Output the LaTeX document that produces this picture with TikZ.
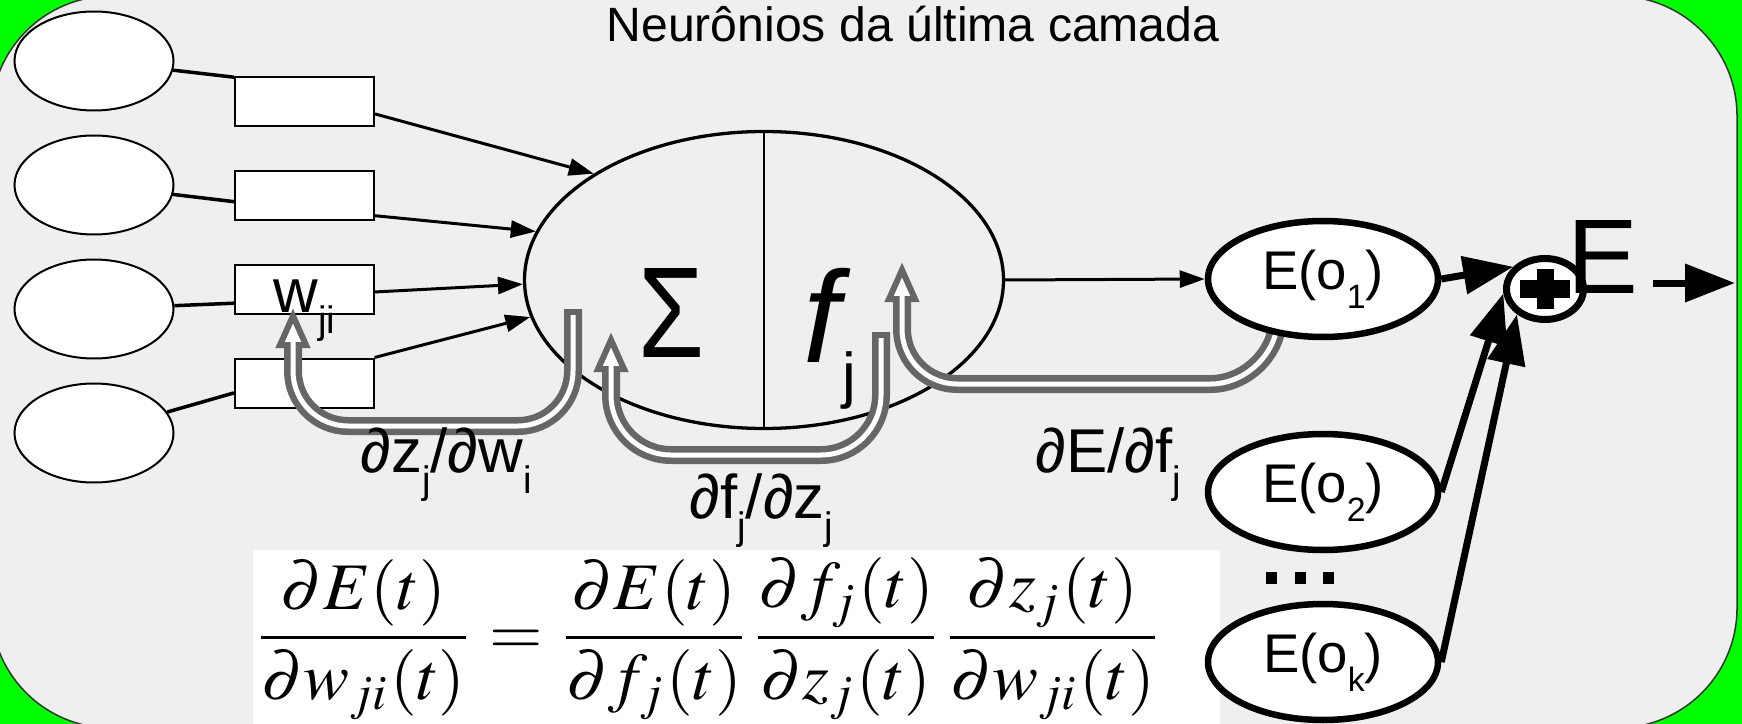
\documentclass[tikz,border=0pt]{standalone}
\usepackage{mathptmx}
\usepackage[no-math]{fontspec}
\setmainfont{Liberation Sans}
\usepackage{xcolor}
\usepackage{graphicx}
\usepackage{tikz}
\usetikzlibrary{arrows.meta,shapes.geometric,calc}

\definecolor{panelgray}{HTML}{EFEFEF}
\definecolor{flowgray}{HTML}{666666}
\definecolor{keygreen}{HTML}{00FF00}

\newcommand{\lowsub}[1]{\raisebox{-0.35em}{\scalebox{0.62}{#1}}}
\newcommand{\flowtip}[1]{\draw[flowhead] ($(#1)+(0,8)$) -- ($(#1)+(-13,37)$) -- ($(#1)+(13,37)$) -- cycle;}

\begin{document}
\begin{tikzpicture}[x=0.1mm,y=-0.1mm]
\tikzstyle{inputcell} = [ellipse, draw, fill=white, line width=0.2mm, minimum width=15.9mm, minimum height=9.9mm, inner sep=0]
\tikzstyle{weightbox} = [rectangle, draw, fill=white, line width=0.2mm, minimum width=13.9mm, minimum height=4.9mm, inner sep=0]
\tikzstyle{neuronbody} = [ellipse, draw, line width=0.33mm, minimum width=47.9mm, minimum height=29.7mm, inner sep=0]
\tikzstyle{errorcell} = [ellipse, draw, fill=white, line width=0.65mm, minimum width=23mm, minimum height=11.6mm, inner sep=0, font=\fontsize{15.5}{18}\selectfont]
\tikzstyle{link} = [line width=0.35mm]
\tikzstyle{arrow} = [line width=0.3mm, -{Triangle[length=2.5mm, width=1.7mm]}]
\tikzstyle{bigarrow} = [line width=0.7mm, -{Triangle[length=5mm, width=3.7mm]}]
\tikzstyle{flowhead} = [draw=flowgray, fill=white, line width=0.6mm, line join=miter]
\tikzstyle{backflow} = [draw=white, line width=0.5mm, rounded corners=5.5mm, shorten <=0.6mm, preaction={draw=flowgray, line width=1.8mm, shorten <=0mm, shorten >=1mm}]
\tikzstyle{derivtext} = [inner sep=0, anchor=base west, font=\fontsize{17.6}{20}\selectfont]

\useasboundingbox (0,0) rectangle (1742,724);
\clip (0,0) rectangle (1742,724);
\fill[keygreen] (0,0) rectangle (1742,724);
\draw[fill=panelgray, draw=black!80, line width=0.15mm, rounded corners=12mm] (-9,-4) rectangle (1737,728);

\node (rulebox) [fill=white, minimum width=96.7mm, minimum height=17.6mm, inner sep=0] at (736.5,638) {};
\node (chainrule) [inner sep=0] at (708,639) {\resizebox*{91mm}{16.2mm}{$\displaystyle \frac{\partial E(t)}{\partial w_{ji}(t)} = \frac{\partial E(t)}{\partial f_j(t)}\frac{\partial f_j(t)}{\partial z_j(t)}\frac{\partial z_j(t)}{\partial w_{ji}(t)}$}};

\node (title) [anchor=base, inner sep=0, font=\fontsize{13.7}{16}\selectfont] at (913,42) {Neurônios da última camada};

\node (in1) [inputcell] at (94,61) {};
\node (in2) [inputcell] at (94,185) {};
\node (in3) [inputcell] at (94,309) {};
\node (in4) [inputcell] at (94,433) {};
\node (w1) [weightbox] at (304.5,101.5) {};
\node (w2) [weightbox] at (304.5,195.5) {};
\node (w3) [weightbox] at (304.5,289.5) {};
\node (w4) [weightbox] at (304.5,383) {};

\draw [link] (in1) -- (w1.161);
\draw [link] (in2) -- (w2.185);
\draw [link] (in3) -- (w3.191);
\draw [link] (in4) -- (w4.188);

\node (neuron) [neuronbody] at (764,280) {};
\draw [line width=0.15mm] (neuron.north) -- (neuron.south);
\node (sigma) [anchor=base west, inner sep=0] at (638,357) {\resizebox{6.6mm}{8.9mm}{Σ}};
\node (fj) [anchor=base west, inner sep=0, font=\fontsize{37}{40}\selectfont] at (803,362) {\textit{f}\hspace{-0.9mm}\raisebox{-3.4mm}{\fontsize{17.6}{20}\selectfont j}};

\draw [arrow] (w1.-10) -- (neuron.148);
\draw [arrow] (w2.-16) -- (neuron.168);
\draw [arrow] (w3.-2) -- (neuron.181);
\draw [arrow] (w4.20) -- (neuron.189);

\node (wlabel) [derivtext] at (273,312) {w\lowsub{ji}};

\coordinate (dzdw-a) at (573,309);
\coordinate (dzdw-t) at (293,308);
\flowtip{dzdw-t}
\draw [backflow] (dzdw-a) -- (573,426) -- (293,426) -- ($(dzdw-t)+(0,26)$);

\coordinate (dfdz-a) at (881,332);
\coordinate (dfdz-t) at (611,332);
\flowtip{dfdz-t}
\draw [backflow, rounded corners=6mm] (dfdz-a) -- (881,455) -- (611,455) -- ($(dfdz-t)+(0,26)$);

\coordinate (dedf-a) at (1278,322);
\coordinate (dedf-t) at (902,262);
\flowtip{dedf-t}
\draw [backflow] (dedf-a) -- (1266,384) -- (902,384) -- ($(dedf-t)+(0,26)$);

\node (dzdw) [derivtext] at (360,472) {∂z\lowsub{j}/∂w\lowsub{i}};
\node (dfdz) [derivtext] at (689,518) {∂f\lowsub{j}/∂z\lowsub{j}};
\node (dedf) [derivtext] at (1035,472) {∂E/∂f\lowsub{j}};

\node (eo1) [errorcell] at (1323,279) {E(o\lowsub{1})\hspace{1.5mm}};
\node (eo2) [errorcell] at (1323,492) {E(o\lowsub{2})\hspace{1.5mm}};
\node (eok) [errorcell] at (1323,662) {E(o\lowsub{k})\hspace{1.5mm}};
\foreach \dx in {0,29,57}
  \fill (1266+\dx,572) rectangle ++(11,12);

\draw [arrow] (neuron.east) -- (eo1.west);

\node (sumnode) [ellipse, draw, fill=white, line width=0.7mm, minimum width=7.7mm, minimum height=6.1mm, inner sep=0] at (1545,289) {};
\fill ($(sumnode)+(-25,-9)$) rectangle ($(sumnode)+(25,9)$);
\fill ($(sumnode)+(-8.5,-20)$) rectangle ($(sumnode)+(8.5,20)$);

\draw [bigarrow] (eo1.east) -- (sumnode.145);
\draw [bigarrow] (eo2.east) -- (sumnode.186);
\draw [bigarrow] (eok.east) -- (sumnode.222);

\node (etotal) [anchor=base west, inner sep=0, font=\fontsize{30.2}{36}\selectfont] at (1567,293) {E};
\coordinate (eout) at (1735,283);
\draw [bigarrow] ([shift={(14,-10)}]etotal.base east) -- (eout);

\end{tikzpicture}
\end{document}
